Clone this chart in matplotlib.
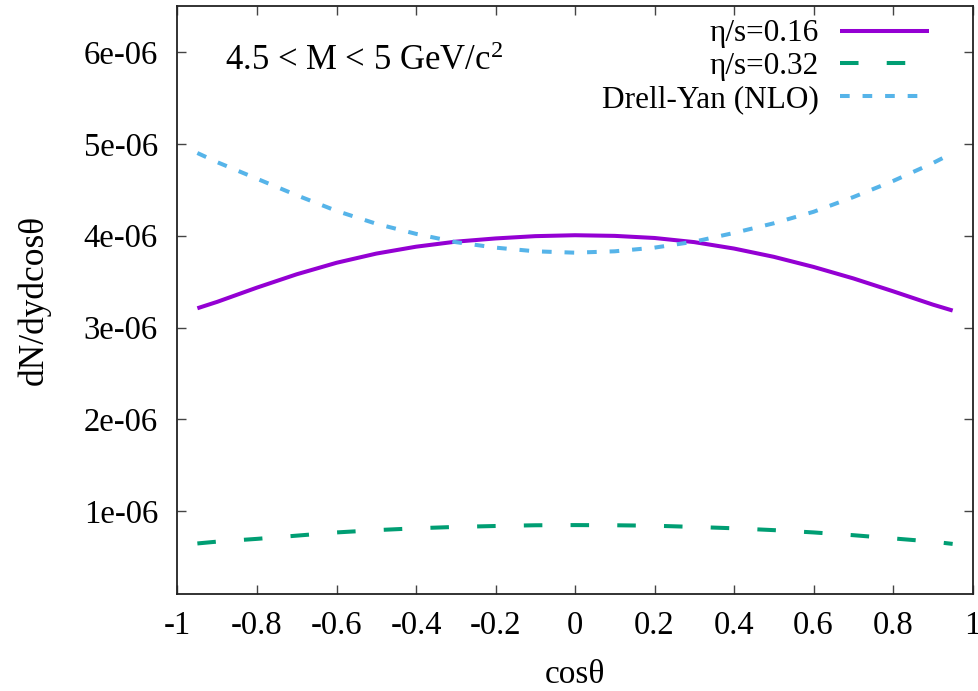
import matplotlib
matplotlib.use("Agg")
import matplotlib.pyplot as plt

plt.rcParams['font.family'] = ['Liberation Serif', 'DejaVu Serif']
plt.rcParams['mathtext.fontset'] = 'custom'
plt.rcParams['mathtext.rm'] = 'Liberation Serif'
plt.rcParams['mathtext.it'] = 'Liberation Serif:italic'

cos_theta = [-0.95, -0.9, -0.8, -0.7, -0.6, -0.5, -0.4, -0.3, -0.2, -0.1, 0.0,
             0.1, 0.2, 0.3, 0.4, 0.5, 0.6, 0.7, 0.8, 0.9, 0.95]
eta_016 = [3.21, 3.28, 3.435, 3.58, 3.705, 3.805, 3.88, 3.935, 3.97, 3.995, 4.005,
           3.998, 3.975, 3.93, 3.86, 3.77, 3.66, 3.535, 3.395, 3.25, 3.185]
eta_032 = [0.65, 0.67, 0.70, 0.735, 0.77, 0.795, 0.815, 0.83, 0.84, 0.848, 0.85,
           0.848, 0.843, 0.83, 0.815, 0.795, 0.77, 0.74, 0.705, 0.67, 0.645]
drell_yan = [4.90, 4.80, 4.62, 4.44, 4.27, 4.13, 4.02, 3.93, 3.87, 3.83, 3.815,
             3.83, 3.87, 3.935, 4.03, 4.135, 4.26, 4.42, 4.595, 4.79, 4.90]
scale = 1e-6

labels = ['η/s=0.16', 'η/s=0.32', 'Drell-Yan (NLO)']
colors = ['#9400D3', '#009E73', '#56B4E9']

xticks = [-1, -0.8, -0.6, -0.4, -0.2, 0, 0.2, 0.4, 0.6, 0.8, 1]
xticklabels = ['-1', '-0.8', '-0.6', '-0.4', '-0.2', '0', '0.2', '0.4', '0.6', '0.8', '1']
yticks = [1e-6, 2e-6, 3e-6, 4e-6, 5e-6, 6e-6]
yticklabels = ['1e-06', '2e-06', '3e-06', '4e-06', '5e-06', '6e-06']

fig = plt.figure(figsize=(9.79, 6.91), dpi=100)
ax = fig.add_axes([0.1813, 0.1404, 0.8121, 0.8509])

lw = 2.9
ax.plot(cos_theta, [v * scale for v in eta_016], color=colors[0], lw=lw,
        label=labels[0], solid_capstyle='butt', solid_joinstyle='round')
ax.plot(cos_theta, [v * scale for v in eta_032], color=colors[1], lw=lw,
        label=labels[1], dashes=(4.6, 7.0), dash_capstyle='butt')
ax.plot(cos_theta, [v * scale for v in drell_yan], color=colors[2], lw=lw,
        label=labels[2], dashes=(2.4, 3.2), dash_capstyle='butt')

ax.set_xlim(-1, 1)
ax.set_ylim(1e-7, 6.5e-6)
ax.set_xticks(xticks)
ax.set_xticklabels(xticklabels)
ax.set_yticks(yticks)
ax.set_yticklabels(yticklabels)
ax.tick_params(direction='in', length=6.5, width=1.0, top=True, right=True,
               labelsize=23.5, color='#444444')
ax.tick_params(axis='x', pad=12)
ax.tick_params(axis='y', pad=14)
for s in ax.spines.values():
    s.set_linewidth(1.3)
    s.set_color('#222222')

ax.set_xlabel('cosθ', fontsize=24, labelpad=13)
ax.set_ylabel('dN/dydcosθ', fontsize=25.5, labelpad=24)

ax.text(0.06, 0.905, r'4.5 < M < 5 GeV/c$^{2}$', transform=ax.transAxes,
        fontsize=25, ha='left', va='center')

leg = ax.legend(loc='upper right', bbox_to_anchor=(0.962, 1.0), frameon=False,
                markerfirst=False, fontsize=22.5, handlelength=2.85,
                handletextpad=0.68, labelspacing=0.12, borderaxespad=0.0,
                borderpad=0.43)

fig.savefig('out.png', dpi=100)
